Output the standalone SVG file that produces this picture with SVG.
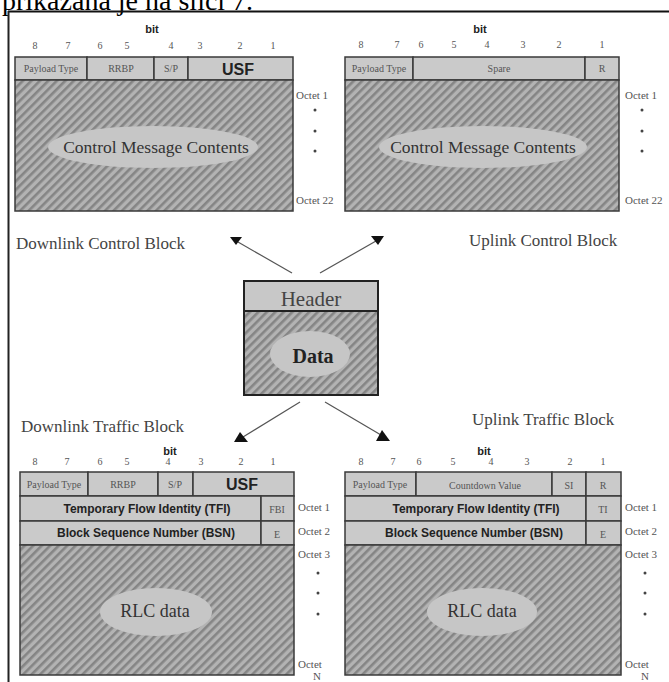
<svg xmlns="http://www.w3.org/2000/svg" width="669" height="682" viewBox="0 0 669 682">
<style>
.serif{font-family:"Liberation Serif","Times New Roman",serif}
.sans{font-family:"Liberation Sans",Arial,sans-serif}
.cell{fill:#cacaca;stroke:#3a3a3a;stroke-width:1.5}
.hatch{fill:url(#hatch);stroke:#3a3a3a;stroke-width:1.5}
.oval{fill:#c6c6c6}
.num{font-size:10px;fill:#555;text-anchor:middle}
.bit{font-size:11px;font-weight:bold;fill:#222;text-anchor:middle}
.small{font-size:10px;fill:#555;text-anchor:middle}
.octet{font-size:11px;fill:#555}
.dot{fill:#444}
.bold12{font-size:12px;font-weight:bold;fill:#222;text-anchor:middle}
.usf{font-size:16px;font-weight:bold;fill:#222;text-anchor:middle}
.big{font-family:"Liberation Serif","Times New Roman",serif;font-size:17.5px;fill:#333;text-anchor:middle}
.rlc{font-family:"Liberation Serif","Times New Roman",serif;font-size:18px;fill:#333;text-anchor:middle}
.title{font-family:"Liberation Serif","Times New Roman",serif;font-size:17px;fill:#444}
.conn{stroke:#555;stroke-width:1.2;fill:none}
.head{fill:#111}
</style>
<defs>
<pattern id="hatch" patternUnits="userSpaceOnUse" width="6" height="6" patternTransform="rotate(45)">
<rect x="0" y="0" width="6" height="6" fill="#b3b3b3"/>
<rect x="0" y="0" width="2.6" height="6" fill="#858585"/>
</pattern>
</defs>
<rect x="0" y="0" width="669" height="682" fill="#ffffff"/>
<text class="serif" x="2" y="10" font-size="28" fill="#000">prikazana je na slici 7.</text>
<line x1="8" y1="11.5" x2="669" y2="11.5" stroke="#111" stroke-width="2"/>
<line x1="8.5" y1="11" x2="8.5" y2="682" stroke="#222" stroke-width="2"/>

<g id="downlink-control-block">
<text class="sans bit" x="152" y="33">bit</text>
<text class="serif num" x="35" y="49">8</text><text class="serif num" x="68" y="49">7</text><text class="serif num" x="100" y="49">6</text><text class="serif num" x="127" y="49">5</text><text class="serif num" x="171" y="49">4</text><text class="serif num" x="200" y="49">3</text><text class="serif num" x="240" y="49">2</text><text class="serif num" x="273" y="49">1</text>
<rect class="cell" x="15" y="57" width="72" height="23"/>
<rect class="cell" x="87" y="57" width="67" height="23"/>
<rect class="cell" x="154" y="57" width="34" height="23"/>
<rect class="cell" x="188" y="57" width="105" height="23"/>
<text class="serif small" x="51" y="72">Payload Type</text>
<text class="serif small" x="121" y="72" font-size="11">RRBP</text>
<text class="serif small" x="171" y="72">S/P</text>
<text class="sans usf" x="238" y="75">USF</text>
<rect class="hatch" x="15" y="80" width="278" height="131"/>
<ellipse class="oval" cx="153" cy="147" rx="105" ry="21"/>
<text class="big" x="156" y="153">Control Message Contents</text>
<text class="serif octet" x="296" y="99">Octet 1</text>
<circle class="dot" cx="315" cy="110" r="1.5"/><circle class="dot" cx="315" cy="131" r="1.5"/><circle class="dot" cx="315" cy="151" r="1.5"/>
<text class="serif octet" x="296" y="204">Octet 22</text>
<text class="title" x="16" y="249">Downlink Control Block</text>
</g>

<g id="uplink-control-block">
<text class="sans bit" x="480" y="33">bit</text>
<text class="serif num" x="361" y="48">8</text><text class="serif num" x="397" y="48">7</text><text class="serif num" x="421" y="48">6</text><text class="serif num" x="454" y="48">5</text><text class="serif num" x="487" y="48">4</text><text class="serif num" x="523" y="48">3</text><text class="serif num" x="559" y="48">2</text><text class="serif num" x="602" y="48">1</text>
<rect class="cell" x="345" y="57" width="68" height="23"/>
<rect class="cell" x="413" y="57" width="172" height="23"/>
<rect class="cell" x="585" y="57" width="34" height="23"/>
<text class="serif small" x="379" y="72">Payload Type</text>
<text class="serif small" x="499" y="72">Spare</text>
<text class="serif small" x="602" y="72">R</text>
<rect class="hatch" x="345" y="80" width="274" height="131"/>
<ellipse class="oval" cx="483" cy="147" rx="104" ry="21"/>
<text class="big" x="483" y="153">Control Message Contents</text>
<text class="serif octet" x="625" y="99">Octet 1</text>
<circle class="dot" cx="642" cy="110" r="1.5"/><circle class="dot" cx="642" cy="131" r="1.5"/><circle class="dot" cx="642" cy="151" r="1.5"/>
<text class="serif octet" x="625" y="204">Octet 22</text>
<text class="title" x="469" y="246">Uplink Control Block</text>
</g>

<g id="center-block">
<rect x="244" y="281" width="134" height="30" fill="#c8c8c8" stroke="#222" stroke-width="2"/>
<rect x="244" y="311" width="134" height="84" fill="url(#hatch)" stroke="#222" stroke-width="2"/>
<text class="serif" x="311" y="306" font-size="21" fill="#444" text-anchor="middle">Header</text>
<ellipse class="oval" cx="310" cy="354" rx="40" ry="23"/>
<text class="serif" x="313" y="363" font-size="20" font-weight="bold" fill="#222" text-anchor="middle">Data</text>
</g>

<g id="downlink-traffic-block">
<text class="title" x="21" y="432">Downlink Traffic Block</text>
<text class="sans bit" x="170" y="455">bit</text>
<text class="serif num" x="35" y="465">8</text><text class="serif num" x="67" y="465">7</text><text class="serif num" x="100" y="465">6</text><text class="serif num" x="127" y="465">5</text><text class="serif num" x="168" y="465">4</text><text class="serif num" x="201" y="465">3</text><text class="serif num" x="241" y="465">2</text><text class="serif num" x="273" y="465">1</text>
<rect class="cell" x="20" y="472" width="68" height="24"/>
<rect class="cell" x="88" y="472" width="70" height="24"/>
<rect class="cell" x="158" y="472" width="35" height="24"/>
<rect class="cell" x="193" y="472" width="101" height="24"/>
<rect class="cell" x="20" y="496" width="241" height="25"/>
<rect class="cell" x="261" y="496" width="33" height="25"/>
<rect class="cell" x="20" y="521" width="241" height="24"/>
<rect class="cell" x="261" y="521" width="33" height="24"/>
<text class="serif small" x="54" y="488">Payload Type</text>
<text class="serif small" x="123" y="488" font-size="11">RRBP</text>
<text class="serif small" x="175" y="488">S/P</text>
<text class="sans usf" x="242" y="490">USF</text>
<text class="sans bold12" x="147" y="513">Temporary Flow Identity (TFI)</text>
<text class="serif small" x="277" y="513">FBI</text>
<text class="sans bold12" x="146" y="537">Block Sequence Number (BSN)</text>
<text class="serif small" x="277" y="538">E</text>
<rect class="hatch" x="20" y="545" width="274" height="130"/>
<ellipse class="oval" cx="156" cy="612" rx="56" ry="24"/>
<text class="rlc" x="155" y="617">RLC data</text>
<text class="serif octet" x="298" y="511">Octet 1</text>
<text class="serif octet" x="298" y="535">Octet 2</text>
<text class="serif octet" x="298" y="558">Octet 3</text>
<circle class="dot" cx="318" cy="573" r="1.5"/><circle class="dot" cx="318" cy="593" r="1.5"/><circle class="dot" cx="318" cy="614" r="1.5"/>
<text class="serif octet" x="298" y="668">Octet</text>
<text class="serif octet" x="313" y="680">N</text>
</g>

<g id="uplink-traffic-block">
<text class="title" x="472" y="425">Uplink Traffic Block</text>
<text class="sans bit" x="484" y="455">bit</text>
<text class="serif num" x="361" y="465">8</text><text class="serif num" x="393" y="465">7</text><text class="serif num" x="419" y="465">6</text><text class="serif num" x="453" y="465">5</text><text class="serif num" x="491" y="465">4</text><text class="serif num" x="527" y="465">3</text><text class="serif num" x="570" y="465">2</text><text class="serif num" x="603" y="465">1</text>
<rect class="cell" x="345" y="472" width="71" height="24"/>
<rect class="cell" x="416" y="472" width="136" height="24"/>
<rect class="cell" x="552" y="472" width="34" height="24"/>
<rect class="cell" x="586" y="472" width="35" height="24"/>
<rect class="cell" x="345" y="496" width="241" height="25"/>
<rect class="cell" x="586" y="496" width="35" height="25"/>
<rect class="cell" x="345" y="521" width="241" height="24"/>
<rect class="cell" x="586" y="521" width="35" height="24"/>
<text class="serif small" x="380" y="488">Payload Type</text>
<text class="serif small" x="485" y="489" font-size="12">Countdown Value</text>
<text class="serif small" x="569" y="489" font-size="11">SI</text>
<text class="serif small" x="603" y="489" font-size="11">R</text>
<text class="sans bold12" x="476" y="513">Temporary Flow Identity (TFI)</text>
<text class="serif small" x="603" y="513">TI</text>
<text class="sans bold12" x="474" y="537">Block Sequence Number (BSN)</text>
<text class="serif small" x="603" y="538">E</text>
<rect class="hatch" x="345" y="545" width="276" height="130"/>
<ellipse class="oval" cx="482" cy="612" rx="55" ry="24"/>
<text class="rlc" x="482" y="617">RLC data</text>
<text class="serif octet" x="625" y="511">Octet 1</text>
<text class="serif octet" x="625" y="535">Octet 2</text>
<text class="serif octet" x="625" y="558">Octet 3</text>
<circle class="dot" cx="645" cy="573" r="1.5"/><circle class="dot" cx="645" cy="593" r="1.5"/><circle class="dot" cx="645" cy="614" r="1.5"/>
<text class="serif octet" x="625" y="668">Octet</text>
<text class="serif octet" x="641" y="680">N</text>
</g>

<g id="connectors">
<line class="conn" x1="292" y1="273" x2="238" y2="242"/>
<polygon class="head" points="230,237 242,237 236,245"/>
<line class="conn" x1="320" y1="273" x2="376" y2="241"/>
<polygon class="head" points="371,236 384,236 378,245"/>
<line class="conn" x1="300" y1="402" x2="243" y2="437"/>
<polygon class="head" points="240,432 234,442 248,442"/>
<line class="conn" x1="325" y1="402" x2="381" y2="435"/>
<polygon class="head" points="382,430 376,441 390,441"/>
</g>
</svg>
